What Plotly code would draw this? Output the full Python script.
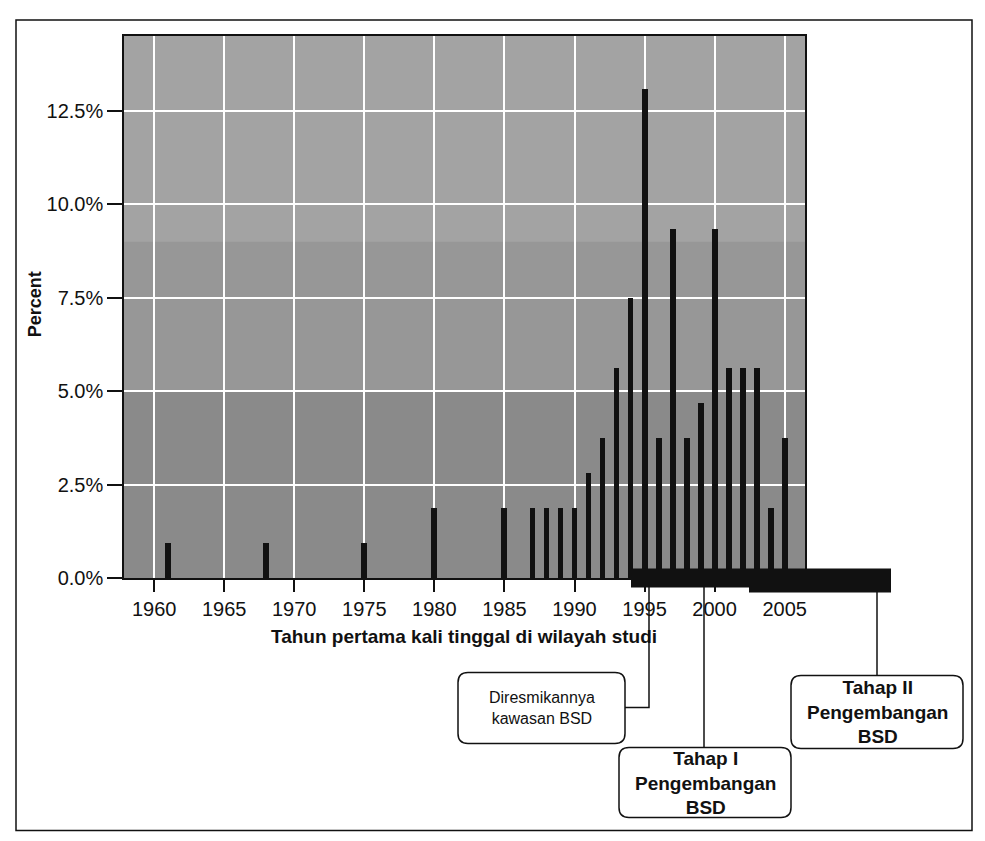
import plotly.graph_objects as go

# ---------------- data ----------------
years = [1961, 1968, 1975, 1980, 1985, 1987, 1988, 1989, 1990, 1991, 1992, 1993,
         1994, 1995, 1996, 1997, 1998, 1999, 2000, 2001, 2002, 2003, 2004, 2005]
percent = [0.93, 0.93, 0.93, 1.87, 1.87, 1.87, 1.87, 1.87, 1.87, 2.80, 3.74, 5.61,
           7.48, 13.08, 3.74, 9.35, 3.74, 4.67, 9.35, 5.61, 5.61, 5.61, 1.87, 3.74]
x_ticks = [1960, 1965, 1970, 1975, 1980, 1985, 1990, 1995, 2000, 2005]
y_ticks = [0, 2.5, 5.0, 7.5, 10.0, 12.5]
y_ticktext = ["0.0%", "2.5%", "5.0%", "7.5%", "10.0%", "12.5%"]
x_title = "Tahun pertama kali tinggal di wilayah studi"
y_title = "Percent"
box_texts = ["Diresmikannya<br>kawasan BSD",
             "<b>Tahap I<br>Pengembangan<br>BSD</b>",
             "<b>Tahap II<br>Pengembangan<br>BSD</b>"]

# ---------------- layout geometry (pixels) ----------------
W, H = 985, 841
L, R, T, B = 124, 805, 36, 577.6


def px(p):
    return (p - L) / (R - L)


def py(p):
    return (B - p) / (B - T)


def rrect(x0, y0, x1, y1, r=10):
    rx = r / (R - L)
    ry = r / (B - T)
    X0, X1 = px(x0), px(x1)
    Y0, Y1 = py(y1), py(y0)  # bottom, top in paper
    return (f"M {X0+rx},{Y1} L {X1-rx},{Y1} Q {X1},{Y1} {X1},{Y1-ry} "
            f"L {X1},{Y0+ry} Q {X1},{Y0} {X1-rx},{Y0} L {X0+rx},{Y0} "
            f"Q {X0},{Y0} {X0},{Y0+ry} L {X0},{Y1-ry} Q {X0},{Y1} {X0+rx},{Y1} Z")


fig = go.Figure()
fig.add_trace(go.Bar(x=years, y=percent, width=0.42,
                     marker=dict(color="#111111", line=dict(width=0))))

font_family = "Liberation Sans, Arial, sans-serif"
shapes = []
# background shading bands
shapes.append(dict(type="rect", xref="paper", yref="y", x0=0, x1=1, y0=0, y1=5,
                   fillcolor="#8a8a8a", line=dict(width=0), layer="below"))
shapes.append(dict(type="rect", xref="paper", yref="y", x0=0, x1=1, y0=5, y1=9,
                   fillcolor="#979797", line=dict(width=0), layer="below"))
shapes.append(dict(type="rect", xref="paper", yref="y", x0=0, x1=1, y0=9, y1=14.5,
                   fillcolor="#a3a3a3", line=dict(width=0), layer="below"))

# dark timeline block under axis
blk = (f"M {px(631)},{py(568)} L {px(891)},{py(568)} L {px(891)},{py(592)} "
       f"L {px(749)},{py(592)} L {px(749)},{py(587)} L {px(631)},{py(587)} Z")
shapes.append(dict(type="path", xref="paper", yref="paper", path=blk,
                   fillcolor="#111111", line=dict(width=0)))

# connector lines
line_style = dict(color="#111111", width=1.5)
shapes.append(dict(type="path", xref="paper", yref="paper",
                   path=f"M {px(649)},{py(585)} L {px(649)},{py(707)} L {px(625)},{py(707)}",
                   line=line_style))
shapes.append(dict(type="line", xref="paper", yref="paper",
                   x0=px(704), x1=px(704), y0=py(585), y1=py(747), line=line_style))
shapes.append(dict(type="line", xref="paper", yref="paper",
                   x0=px(877), x1=px(877), y0=py(590), y1=py(675), line=line_style))

# rounded boxes
boxes = [(458, 672, 625, 743), (619, 747, 791, 817), (791, 675, 963, 748)]
for (x0, y0, x1, y1) in boxes:
    shapes.append(dict(type="path", xref="paper", yref="paper", path=rrect(x0, y0, x1, y1),
                       fillcolor="white", line=dict(color="#111111", width=1.5)))

# outer frame
shapes.append(dict(type="rect", xref="paper", yref="paper",
                   x0=px(16), x1=px(972), y0=py(830), y1=py(20),
                   line=dict(color="#111111", width=1.5), fillcolor="rgba(0,0,0,0)"))

annotations = []
annotations.append(dict(xref="paper", yref="paper", x=px(464), y=py(636),
                        xanchor="center", yanchor="middle",
                        text=f"<b>{x_title}</b>", showarrow=False,
                        font=dict(size=19, color="#111111", family=font_family)))
annotations.append(dict(xref="paper", yref="paper", x=px(35), y=py(304),
                        xanchor="center", yanchor="middle",
                        text=f"<b>{y_title}</b>", showarrow=False, textangle=-90,
                        font=dict(size=18, color="#111111", family=font_family)))
sizes = [16, 19, 19]
for (x0, y0, x1, y1), txt, fs in zip(boxes, box_texts, sizes):
    annotations.append(dict(xref="paper", yref="paper", x=px((x0 + x1) / 2), y=py((y0 + y1) / 2),
                            xanchor="center", yanchor="middle",
                            text=txt, showarrow=False, align="center",
                            font=dict(size=fs, color="#111111", family=font_family)))

fig.update_layout(
    width=W, height=H,
    margin=dict(l=L, r=W - R, t=T, b=H - B),
    paper_bgcolor="white",
    plot_bgcolor="#a0a0a0",
    showlegend=False,
    shapes=shapes,
    annotations=annotations,
    font=dict(family=font_family, size=20, color="#111111"),
    bargap=0,
)
fig.update_xaxes(range=[1957.85, 2006.45], tickmode="array", tickvals=x_ticks,
                 ticks="outside", ticklen=12, tickcolor="#111111", tickwidth=1.5,
                 showgrid=True, gridcolor="white", gridwidth=1.5,
                 showline=True, linecolor="#111111", linewidth=1.5, mirror=True,
                 zeroline=False, tickfont=dict(size=20))
fig.update_yaxes(range=[0, 14.5], tickmode="array", tickvals=y_ticks, ticktext=y_ticktext,
                 ticks="outside", ticklen=15, tickcolor="#111111", tickwidth=1.5,
                 showgrid=True, gridcolor="white", gridwidth=1.5,
                 showline=True, linecolor="#111111", linewidth=1.5, mirror=True,
                 zeroline=False, tickfont=dict(size=20))

fig.write_html("out.html")
